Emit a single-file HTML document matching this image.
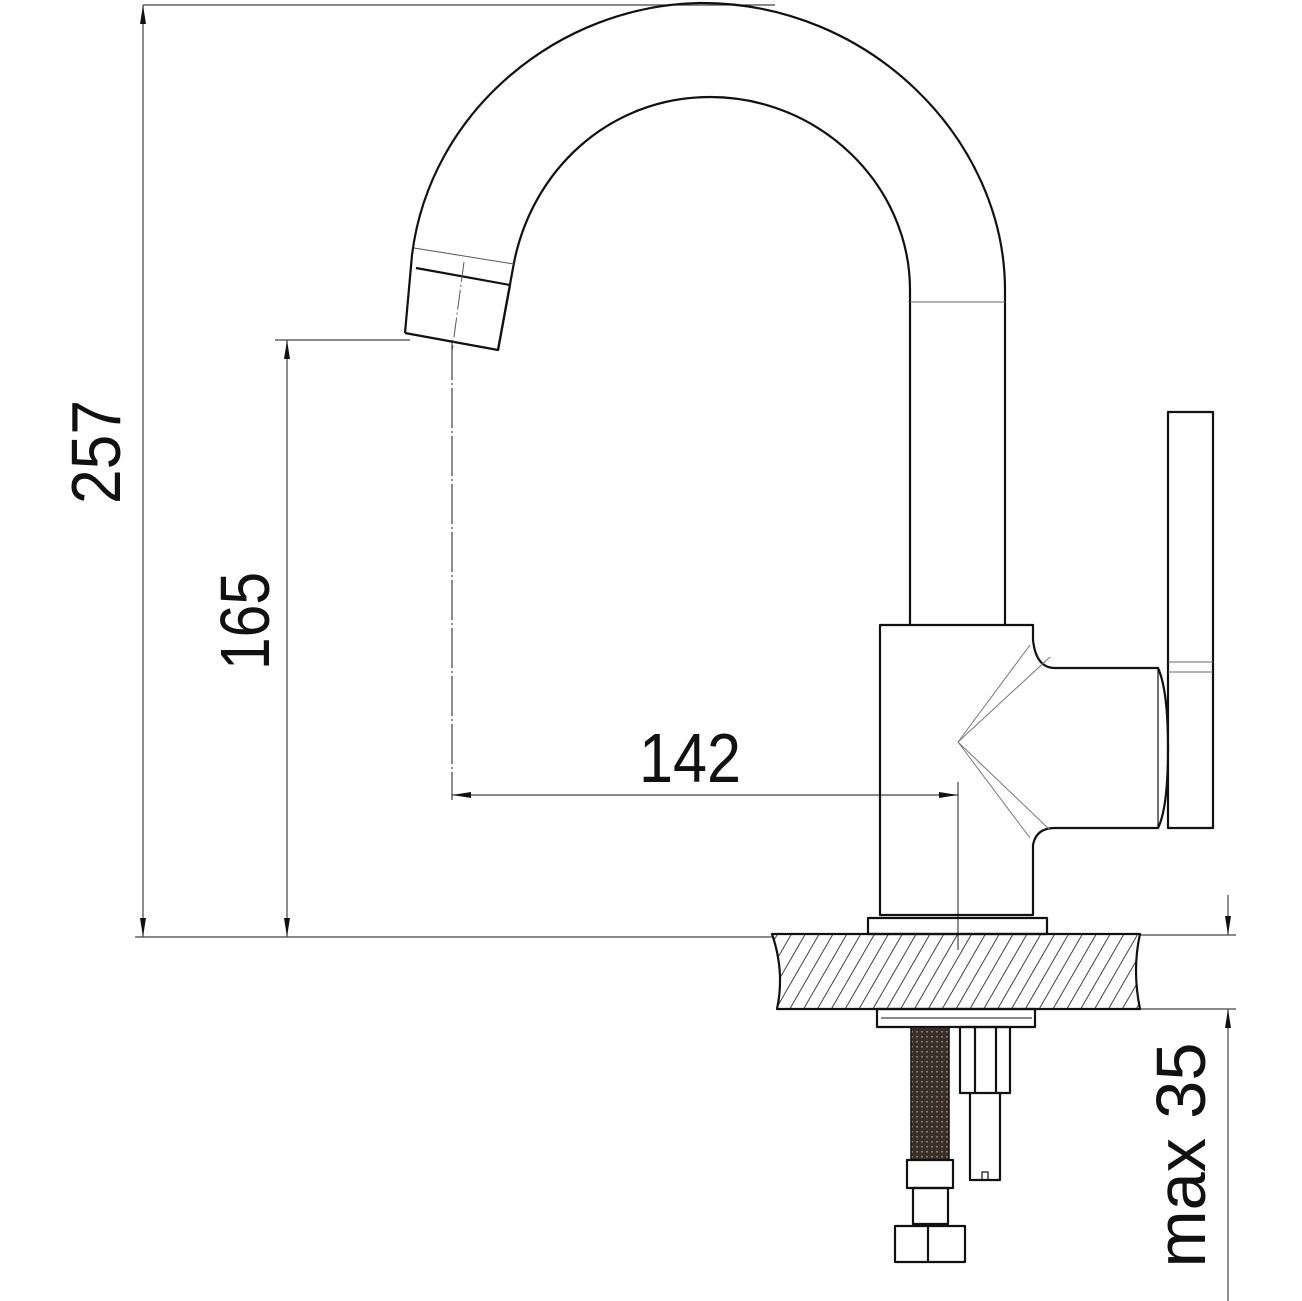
<!DOCTYPE html>
<html><head><meta charset="utf-8"><style>html,body{margin:0;padding:0;background:#fff}svg{display:block}</style></head>
<body>
<svg width="1302" height="1301" viewBox="0 0 1302 1301" xmlns="http://www.w3.org/2000/svg">
<defs>
<pattern id="h" patternUnits="userSpaceOnUse" width="12" height="12" patternTransform="rotate(30)">
<line x1="0" y1="0" x2="0" y2="12" stroke="#111" stroke-width="1.6"/>
</pattern>
<pattern id="k" patternUnits="userSpaceOnUse" width="5" height="5">
<rect width="5" height="5" fill="#3a2f28"/>
<rect x="1" y="1" width="2" height="1.5" fill="#8a7a6a"/>
</pattern>
<marker id="a" markerWidth="20" markerHeight="10" refX="19" refY="5" orient="auto" markerUnits="userSpaceOnUse">
<path d="M0,2 L19,5 L0,8 Z" fill="#111"/>
</marker>
</defs>
<g fill="none" stroke="#444" stroke-width="1.2">
<line x1="143" y1="5" x2="775" y2="5"/>
<line x1="135" y1="937" x2="772" y2="937"/>
<line x1="143" y1="470" x2="143" y2="5" marker-end="url(#a)"/>
<line x1="143" y1="470" x2="143" y2="937" marker-end="url(#a)"/>
<line x1="275" y1="340" x2="410" y2="340"/>
<line x1="287" y1="640" x2="287" y2="340" marker-end="url(#a)"/>
<line x1="287" y1="640" x2="287" y2="937" marker-end="url(#a)"/>
<line x1="452" y1="340" x2="452" y2="800" stroke-dasharray="40 3 2 3"/>
<line x1="958" y1="782" x2="958" y2="950"/>
<line x1="700" y1="795" x2="452" y2="795" marker-end="url(#a)"/>
<line x1="700" y1="795" x2="958" y2="795" marker-end="url(#a)"/>
<line x1="1140" y1="935" x2="1236" y2="935"/>
<line x1="1140" y1="1009" x2="1236" y2="1009"/>
<line x1="1228" y1="895" x2="1228" y2="935" marker-end="url(#a)"/>
<line x1="1228" y1="1301" x2="1228" y2="1009" marker-end="url(#a)"/>
</g>
<g fill="#111" font-family="'Liberation Sans', sans-serif" font-size="70">
<text transform="translate(120,452) rotate(-90)" text-anchor="middle" textLength="104" lengthAdjust="spacingAndGlyphs">257</text>
<text transform="translate(269,621) rotate(-90)" text-anchor="middle" textLength="98" lengthAdjust="spacingAndGlyphs">165</text>
<text x="690" y="782" text-anchor="middle" textLength="102" lengthAdjust="spacingAndGlyphs">142</text>
<text transform="translate(1205,1155) rotate(-90)" text-anchor="middle" textLength="225" lengthAdjust="spacingAndGlyphs">max 35</text>
</g>
<g fill="none" stroke="#111" stroke-width="2.2" stroke-linejoin="round">
<path d="M405,333 L412,255 C430,110 560,5 700,3 C870,2 1005,140 1005,290 L1005,625"/>
<path d="M498,350 L513,268 C530,170 610,97 710,97 C820,97 910,185 910,290 L910,625"/>
<line x1="910" y1="302" x2="1005" y2="302" stroke-width="1" stroke="#666"/>
<line x1="414" y1="248" x2="514" y2="264" stroke-width="1" stroke="#555"/>
<path d="M416,268 L510,285 L498,350 L405,333"/>
<line x1="464" y1="262" x2="452" y2="352" stroke-width="1" stroke="#555" stroke-dasharray="20 3 2 3"/>
<path d="M880,625 L1033,625 L1033,640 Q1036,668 1055,668 L1158,668 Q1168,690 1168,748 Q1168,808 1158,828 L1055,828 Q1036,828 1033,845 L1033,915 L880,915 Z"/>
<line x1="1158" y1="668" x2="1158" y2="828" stroke-width="1.2"/>
<rect x="1168" y="412" width="45" height="416"/>
<line x1="1168" y1="662" x2="1213" y2="662" stroke-width="1" stroke="#666"/>
<line x1="1168" y1="672" x2="1213" y2="672" stroke-width="1" stroke="#666"/>
<g stroke="#777" stroke-width="1">
<path d="M1030,645 L958,742 L1030,838"/>
<path d="M1050,657 L958,742 L1050,830"/>
</g>
<rect x="868" y="918" width="179" height="16"/>
<path d="M772,934 L1140,934 Q1132,970 1140,1009 L777,1009 Q785,972 772,934 Z" fill="url(#h)"/>
<rect x="877" y="1009" width="158" height="18"/>
<line x1="881" y1="1018" x2="1032" y2="1018" stroke-width="1"/>
<rect x="911" y="1027" width="38" height="133" fill="url(#k)" stroke-width="1.5"/>
<rect x="907" y="1160" width="46" height="28"/>
<rect x="913" y="1188" width="35" height="36"/>
<rect x="895" y="1226" width="70" height="36"/>
<line x1="928" y1="1226" x2="928" y2="1262"/>
<rect x="960" y="1027" width="50" height="66"/>
<line x1="975" y1="1027" x2="975" y2="1093"/>
<line x1="996" y1="1027" x2="996" y2="1093"/>
<path d="M970,1093 L970,1180 L1000,1180 L1000,1093"/>
<path d="M982,1180 L982,1172 L988,1172 L988,1180" stroke-width="1.2"/>
</g>
</svg>
</body></html>
